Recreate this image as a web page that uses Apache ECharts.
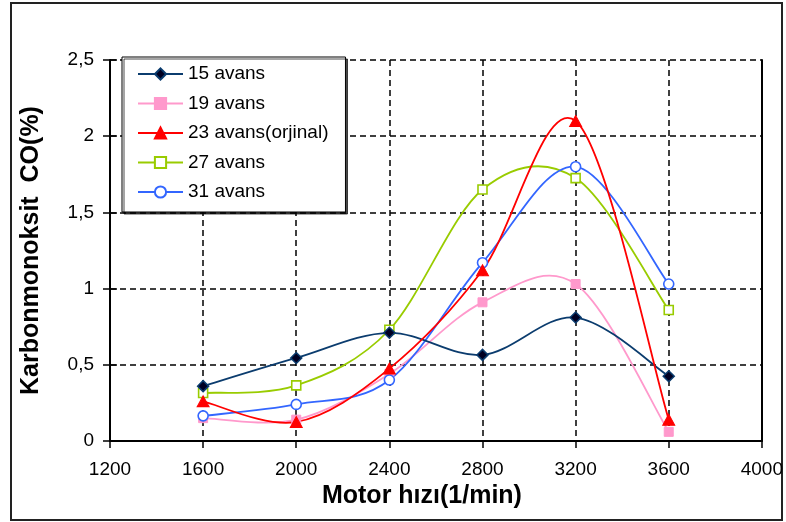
<!DOCTYPE html>
<html>
<head>
<meta charset="utf-8">
<script src="https://cdn.jsdelivr.net/npm/echarts@6/dist/echarts.min.js"></script>
<style>
html,body{margin:0;padding:0;background:#fff;}
#chart{width:786px;height:522px;}
</style>
</head>
<body>
<div id="chart"></div>
<script>
var xValues = [1600, 2000, 2400, 2800, 3200, 3600];
var seriesNames = ['15 avans', '19 avans', '23 avans(orjinal)', '27 avans', '31 avans'];
var s15 = [0.36, 0.545, 0.71, 0.565, 0.81, 0.425];
var s19 = [0.15, 0.14, 0.44, 0.91, 1.03, 0.06];
var s23 = [0.26, 0.125, 0.475, 1.12, 2.10, 0.14];
var s27 = [0.315, 0.365, 0.73, 1.65, 1.725, 0.86];
var s31 = [0.165, 0.24, 0.40, 1.17, 1.80, 1.03];
var seriesColors = ['#0B3C6E', '#FF99CC', '#FF0000', '#99CC00', '#3366FF'];

function pairs(arr){ return xValues.map(function(x,i){ return [x, arr[i]]; }); }

var FONT = '"Liberation Sans", Arial, sans-serif';

// Smoothed (Catmull-Rom style) curve through the data points, drawn in pixel space via the axes
function curveSeries(arr, color, z){
  var pts = pairs(arr);
  return {
    type: 'custom', silent: true, z: z, clip: false,
    data: pts,
    renderItem: function(params, api){
      var i = params.dataIndex;
      var n = pts.length;
      if (i >= n - 1) return null;
      function P(k){ k = Math.max(0, Math.min(n - 1, k)); return api.coord(pts[k]); }
      var p0 = P(i - 1), p1 = P(i), p2 = P(i + 1), p3 = P(i + 2);
      return {
        type: 'bezierCurve',
        shape: {
          x1: p1[0], y1: p1[1], x2: p2[0], y2: p2[1],
          cpx1: p1[0] + (p2[0] - p0[0]) / 6, cpy1: p1[1] + (p2[1] - p0[1]) / 6,
          cpx2: p2[0] - (p3[0] - p1[0]) / 6, cpy2: p2[1] - (p3[1] - p1[1]) / 6
        },
        style: {stroke: color, fill: null, lineWidth: 1.8}
      };
    }
  };
}

function markerSeries(idx, arr, symbol, size, fill, borderW, z){
  return {
    name: seriesNames[idx], type: 'line', data: pairs(arr), z: z,
    symbol: symbol, symbolSize: size, showAllSymbol: true,
    lineStyle: {color: seriesColors[idx], width: 1.8, opacity: 0},
    itemStyle: {color: fill, borderColor: seriesColors[idx], borderWidth: borderW}
  };
}

var chart = echarts.init(document.getElementById('chart'));
chart.setOption({
  animation: false,
  backgroundColor: '#fff',
  graphic: [{
    type: 'rect', silent: true,
    shape: {x: 11, y: 3, width: 771, height: 517},
    style: {fill: 'none', stroke: '#222', lineWidth: 2}
  }],
  grid: {left: 110, right: 22, top: 60, bottom: 81},
  legend: {
    orient: 'vertical',
    left: 122, top: 57,
    padding: [7.5, 17, 10.5, 15],
    itemGap: 10.5,
    itemWidth: 45, itemHeight: 14,
    backgroundColor: '#fff',
    borderColor: '#000', borderWidth: 1,
    shadowColor: 'rgba(0,0,0,0.7)', shadowOffsetX: 2, shadowOffsetY: 2, shadowBlur: 0,
    lineStyle: {opacity: 1},
    textStyle: {fontFamily: FONT, fontSize: 19, color: '#000'},
    data: seriesNames
  },
  xAxis: {
    type: 'value', min: 1200, max: 4000, interval: 400,
    name: 'Motor hızı(1/min)', nameLocation: 'middle', nameGap: 38,
    nameTextStyle: {fontFamily: FONT, fontSize: 25, fontWeight: 'bold', color: '#000', padding: [0, 28, 0, 0]},
    axisLine: {lineStyle: {color: '#000', width: 2}},
    axisTick: {show: true, length: 7, lineStyle: {color: '#000', width: 1.5}},
    axisLabel: {fontFamily: FONT, fontSize: 19, color: '#000', margin: 19,
      formatter: function(v){ return String(v); }},
    splitLine: {show: true, lineStyle: {color: '#000', width: 1.5, type: [6, 4]}}
  },
  yAxis: [{
    type: 'value', min: 0, max: 2.5, interval: 0.5,
    name: 'Karbonmonoksit  CO(%)', nameLocation: 'middle', nameGap: 66,
    nameTextStyle: {fontFamily: FONT, fontSize: 25, fontWeight: 'bold', color: '#000'},
    axisLine: {show: true, lineStyle: {color: '#000', width: 2}},
    axisTick: {show: true, length: 7, lineStyle: {color: '#000', width: 1.5}},
    axisLabel: {fontFamily: FONT, fontSize: 19, color: '#000', margin: 16,
      formatter: function(v){ return String(v).replace('.', ','); }},
    splitLine: {show: true, lineStyle: {color: '#000', width: 1.5, type: [6, 4]}}
  }, {
    type: 'value', min: 0, max: 2.5, interval: 0.5, position: 'right',
    axisLine: {show: true, lineStyle: {color: '#000', width: 2}},
    axisTick: {show: false}, axisLabel: {show: false}, splitLine: {show: false}
  }, {
    type: 'value', min: 0, max: 2.5, interval: 0.5, position: 'left',
    axisLine: {show: false},
    axisTick: {show: true, inside: true, length: 7, lineStyle: {color: '#000', width: 1.5}},
    axisLabel: {show: false}, splitLine: {show: false}
  }],
  series: [
    curveSeries(s27, seriesColors[3], 2),
    curveSeries(s19, seriesColors[1], 2),
    curveSeries(s31, seriesColors[4], 2),
    curveSeries(s15, seriesColors[0], 2),
    curveSeries(s23, seriesColors[2], 2),
    markerSeries(0, s15, 'diamond', 11, '#000022', 1.5, 6),
    markerSeries(1, s19, 'rect', 9, '#FF99CC', 1, 5),
    markerSeries(2, s23, 'triangle', [12, 11], '#FF0000', 1, 7),
    markerSeries(3, s27, 'rect', 9, '#FFFFFF', 1.6, 4),
    markerSeries(4, s31, 'circle', 10, '#FFFFFF', 1.6, 5)
  ]
});
</script>
</body>
</html>
